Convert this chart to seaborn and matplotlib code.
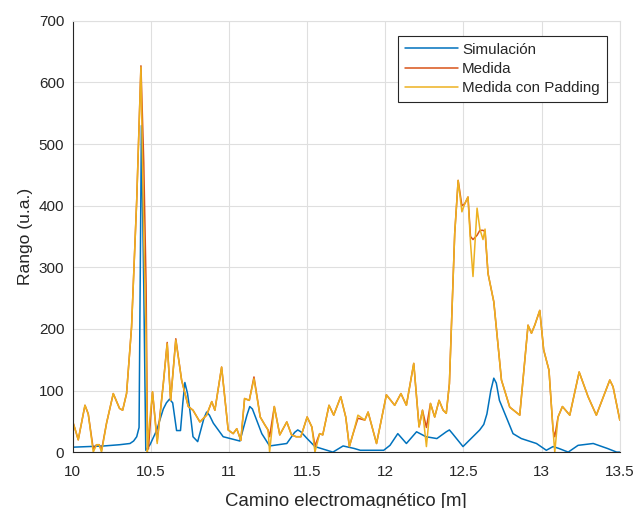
import matplotlib
matplotlib.use("Agg")
import matplotlib.pyplot as plt
import seaborn as sns

# %% Data
sim_x = [10.00, 10.10, 10.20, 10.30, 10.367, 10.39, 10.41, 10.425, 10.44, 10.455,
         10.468, 10.495, 10.537, 10.58, 10.60, 10.62, 10.64, 10.665, 10.69, 10.705,
         10.718, 10.735, 10.75, 10.77, 10.80, 10.84, 10.857, 10.875, 10.90, 10.963,
         11.07, 11.115, 11.133, 11.15, 11.177, 11.21, 11.26, 11.37, 11.42, 11.44,
         11.46, 11.50, 11.55, 11.665, 11.73, 11.80, 11.84, 11.99, 12.03, 12.08,
         12.135, 12.20, 12.26, 12.33, 12.39, 12.41, 12.43, 12.497, 12.604, 12.63,
         12.65, 12.675, 12.694, 12.71, 12.73, 12.817, 12.87, 12.967, 13.03, 13.073,
         13.11, 13.17, 13.233, 13.33, 13.42, 13.48, 13.50]
sim_y = [8, 9, 10, 12, 14, 18, 25, 40, 530, 270,
         3, 12, 35, 70, 80, 86, 80, 35, 35, 80,
         113, 95, 68, 25, 17, 55, 65, 60, 47, 25,
         18, 60, 74, 70, 52, 30, 10, 14, 32, 36,
         33, 22, 9, 0, 10, 6, 3, 3, 11, 30,
         14, 33, 25, 22, 33, 36, 30, 9, 36, 45,
         62, 100, 120, 112, 84, 30, 22, 14, 3, 9,
         6, 0, 11, 14, 6, 0, 0]

med_x = [10.000, 10.015, 10.036, 10.079, 10.100, 10.132, 10.153, 10.170, 10.185, 10.217,
         10.260, 10.300, 10.320, 10.345, 10.377, 10.410, 10.437, 10.455, 10.470, 10.478,
         10.485, 10.511, 10.541, 10.580, 10.605, 10.627, 10.660, 10.697, 10.740, 10.770,
         10.814, 10.857, 10.890, 10.910, 10.953, 10.995, 11.027, 11.050, 11.076, 11.100,
         11.130, 11.160, 11.200, 11.230, 11.250, 11.260, 11.290, 11.325, 11.370, 11.400,
         11.430, 11.460, 11.500, 11.530, 11.550, 11.580, 11.600, 11.640, 11.670, 11.715,
         11.747, 11.770, 11.794, 11.825, 11.869, 11.890, 11.944, 12.007, 12.060, 12.100,
         12.135, 12.182, 12.216, 12.238, 12.263, 12.289, 12.316, 12.344, 12.370, 12.390,
         12.410, 12.444, 12.466, 12.490, 12.508, 12.529, 12.545, 12.561, 12.587, 12.605,
         12.625, 12.638, 12.657, 12.694, 12.743, 12.796, 12.860, 12.913, 12.935, 12.956,
         12.988, 13.013, 13.047, 13.073, 13.084, 13.105, 13.133, 13.180, 13.240, 13.297,
         13.350, 13.436, 13.457, 13.500]
med_y = [50, 38, 20, 76, 62, 5, 12, 12, 3, 47,
         95, 71, 68, 95, 203, 409, 627, 470, 270, 40,
         5, 98, 18, 111, 178, 84, 184, 117, 74, 68,
         49, 60, 82, 68, 138, 36, 30, 38, 19, 87,
         84, 122, 57, 44, 36, 25, 74, 28, 49, 28,
         25, 25, 57, 41, 10, 30, 28, 76, 60, 90,
         57, 9, 30, 55, 52, 65, 14, 93, 76, 95,
         76, 144, 41, 68, 40, 79, 57, 84, 68, 63,
         111, 355, 441, 400, 403, 414, 350, 345, 352, 360,
         360, 358, 290, 244, 117, 73, 60, 206, 193, 206,
         230, 166, 133, 36, 25, 57, 74, 60, 130, 90,
         60, 117, 106, 52]
pad_y = [50, 38, 20, 76, 62, 0, 12, 12, 0, 47,
         95, 71, 68, 95, 203, 409, 625, 350, 190, 0,
         30, 98, 14, 111, 176, 84, 182, 117, 74, 68,
         49, 60, 82, 68, 138, 36, 30, 38, 19, 87,
         84, 119, 57, 44, 36, 0, 74, 28, 49, 28,
         25, 25, 57, 41, 0, 30, 28, 76, 60, 90,
         57, 9, 30, 60, 52, 65, 14, 93, 76, 95,
         76, 144, 41, 68, 9, 79, 57, 84, 68, 63,
         111, 355, 441, 390, 403, 414, 340, 285, 396, 362,
         345, 362, 290, 244, 117, 73, 60, 206, 193, 206,
         230, 166, 133, 36, 0, 57, 74, 60, 130, 90,
         60, 117, 106, 52]

labels = ["Simulación", "Medida", "Medida con Padding"]
colors = ["#0072BD", "#D95319", "#EDB120"]

# %% Plot
sns.set_style("white")
plt.rcParams["font.family"] = ["Liberation Sans", "DejaVu Sans"]

fig = plt.figure(figsize=(6.37, 5.08), dpi=100)
ax = fig.add_axes([0.114, 0.110, 0.859, 0.849])

sns.lineplot(x=sim_x, y=sim_y, ax=ax, color=colors[0], lw=1.1, label=labels[0], sort=False)
sns.lineplot(x=med_x, y=med_y, ax=ax, color=colors[1], lw=1.1, label=labels[1], sort=False)
sns.lineplot(x=med_x, y=pad_y, ax=ax, color=colors[2], lw=1.1, label=labels[2], sort=False)

ax.set_xlim(10, 13.5)
ax.set_ylim(0, 700)
ax.set_xticks([10, 10.5, 11, 11.5, 12, 12.5, 13, 13.5])
ax.set_xticklabels(["10", "10.5", "11", "11.5", "12", "12.5", "13", "13.5"])
ax.set_yticks(range(0, 701, 100))
ax.grid(True, color="#DFDFDF", lw=0.8)
ax.set_axisbelow(True)

for s in ["left", "bottom"]:
    ax.spines[s].set_color("#262626")
    ax.spines[s].set_linewidth(0.8)
for s in ["top", "right"]:
    ax.spines[s].set_color("#DFDFDF")
    ax.spines[s].set_linewidth(0.8)

ax.tick_params(axis="both", direction="in", length=4, width=0.8, colors="#262626",
               labelsize=11)
ax.tick_params(axis="x", pad=9)
ax.tick_params(axis="y", pad=6)

ax.set_xlabel("Camino electromagnético [m]", fontsize=13.4, color="#262626", labelpad=10)
ax.set_ylabel("Rango (u.a.)", fontsize=12.5, color="#262626")

leg = ax.legend(loc="upper right", bbox_to_anchor=(0.976, 0.965), borderaxespad=0,
                fancybox=False, edgecolor="#262626", fontsize=10.9, handlelength=3.5,
                handletextpad=0.3, borderpad=0.45, labelspacing=0.35, framealpha=1)
leg.get_frame().set_linewidth(0.8)

fig.savefig("out.png", dpi=100)
